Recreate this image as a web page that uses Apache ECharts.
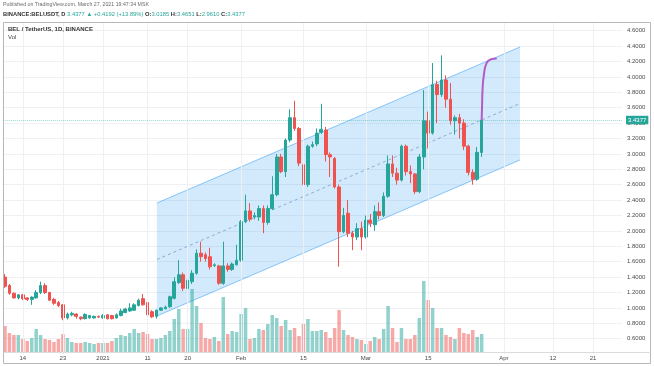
<!DOCTYPE html>
<html><head><meta charset="utf-8">
<script src="https://cdn.jsdelivr.net/npm/echarts@6/dist/echarts.min.js"></script>
<style>html,body{margin:0;padding:0;background:#fff}#c{width:654px;height:366px}</style>
</head><body><div id="c"></div>
<script>
// ---- data ----
const startDate = '2020-12-10';
const dayCount = 139; // Dec 10 2020 .. Apr 27 2021
const opens = [1.40,1.29,1.19,1.13,1.17,1.13,1.11,1.13,1.20,1.29,
 1.20,1.11,1.07,1.04,0.87,0.91,0.92,0.88,0.86,0.87,
 0.87,0.89,0.87,0.91,0.90,0.87,0.90,0.94,0.96,0.97,
 1.03,1.12,1.07,0.95,0.89,0.97,0.99,1.015,1.125,1.33,
 1.43,1.25,1.34,1.45,1.71,1.69,1.665,1.55,1.545,1.32,
 1.545,1.50,1.56,1.62,2.12,2.26,2.18,2.18,2.29,2.11,
 2.29,2.47,2.96,2.77,3.18,3.47,3.33,2.86,2.60,3.10,
 3.13,3.28,3.31,2.99,2.94,2.57,1.99,2.23,1.97,1.92,
 2.03,1.92,2.14,2.08,2.25,2.20,2.45,2.87,2.75,2.66,
 3.10,2.77,2.74,2.51,2.96,3.43,3.27,3.90,3.77,3.96,
 3.71,3.43,3.47,3.40,3.10,2.76,2.67,3.0185];
const closes = [1.28,1.19,1.13,1.17,1.12,1.11,1.14,1.20,1.29,1.20,
 1.10,1.06,1.03,0.87,0.92,0.93,0.89,0.86,0.915,0.90,
 0.89,0.88,0.90,0.86,0.86,0.91,0.96,0.985,1.00,1.04,
 1.10,1.04,0.91,0.885,0.97,1.00,1.01,1.145,1.34,1.43,
 1.255,1.36,1.45,1.71,1.665,1.64,1.535,1.56,1.32,1.545,
 1.50,1.57,1.62,2.12,2.26,2.15,2.20,2.29,2.11,2.29,
 2.47,2.96,2.77,3.18,3.47,3.33,2.88,2.60,3.10,3.12,
 3.27,3.32,2.99,2.96,2.57,1.99,2.20,1.97,1.92,2.03,
 1.92,2.14,2.10,2.25,2.20,2.45,2.87,2.75,2.66,3.10,
 2.77,2.74,2.51,2.96,3.43,3.27,3.90,3.77,3.96,3.71,
 3.43,3.47,3.40,3.10,2.76,2.67,3.02,3.4377];
const lows = [1.26,1.17,1.12,1.11,1.10,1.09,1.04,1.12,1.18,1.18,
 1.09,1.04,1.01,0.84,0.85,0.89,0.86,0.84,0.85,0.86,
 0.86,0.87,0.86,0.85,0.85,0.86,0.89,0.93,0.95,0.96,
 1.02,1.03,0.85,0.87,0.86,0.96,0.98,1.00,1.11,1.31,
 1.22,1.22,1.31,1.43,1.60,1.60,1.50,1.53,1.30,1.30,
 1.47,1.48,1.55,1.60,2.10,2.12,2.15,2.13,1.97,2.08,
 2.27,2.45,2.75,2.70,3.15,3.30,2.84,2.25,2.57,3.08,
 3.10,3.26,2.90,2.70,2.55,1.535,1.97,1.92,1.75,1.88,
 1.75,1.90,2.05,2.00,2.15,2.18,2.43,2.70,2.60,2.64,
 2.72,2.62,2.48,2.49,2.80,3.07,3.25,3.40,3.74,3.60,
 3.38,3.25,3.20,3.05,2.72,2.60,2.65,2.961];
const highs = [1.44,1.31,1.20,1.18,1.18,1.14,1.15,1.23,1.34,1.32,
 1.21,1.13,1.09,1.05,0.94,0.95,0.93,0.89,0.93,0.91,
 0.90,0.90,0.92,0.92,0.91,0.93,0.99,1.00,1.06,1.06,
 1.12,1.18,1.10,0.97,0.98,1.01,1.03,1.16,1.40,1.62,
 1.46,1.38,1.49,1.76,1.86,1.72,1.78,1.58,1.56,1.86,
 1.58,1.59,1.82,2.14,2.47,2.36,2.24,2.33,2.33,2.33,
 2.71,3.00,3.00,3.20,3.58,3.69,3.35,2.90,3.12,3.16,
 3.33,3.65,3.35,3.02,2.96,2.60,2.30,2.40,2.00,2.10,
 2.12,2.20,2.22,2.33,2.37,2.50,2.98,2.98,2.82,3.12,
 3.12,2.85,2.75,3.00,3.83,3.55,4.18,3.95,4.28,4.02,
 3.92,3.50,3.52,3.45,3.12,2.80,3.09,3.4651];
const volumes = [26,19,17,17,13,11,14,23,17,13,
 12,10,13,18,14,10,9,9,10,9,
 8,9,9,9,11,14,17,16,19,23,
 19,20,18,13,13,14,17,21,33,43,
 23,23,63,46,29,14,13,15,11,55,
 18,21,20,38,44,13,14,23,22,28,
 37,34,26,32,22,24,16,28,33,21,
 21,22,20,14,24,42,22,17,15,13,
 12,8,11,15,13,23,46,24,10,24,
 13,13,17,34,71,52,44,24,24,17,
 15,13,24,19,18,22,15,18];
const tickDates = ['2020-12-14','2020-12-23','2021-01-01','2021-01-11','2021-01-20','2021-02-01','2021-02-15','2021-03-01','2021-03-15','2021-04-01','2021-04-12','2021-04-21'];
const tickTexts = ['14','23','2021','11','20','Feb','15','Mar','15','Apr','12','21'];
const priceMin = 0.4, priceMax = 4.8, priceStep = 0.2;
const channelX = [34.1, 115.6];
const channelUpper = [2.362, 4.388];
const channelLower = [0.895, 2.921];
const projX = [107, 107.1, 107.2, 107.5, 108.1, 109.1, 110.4];
const projY = [3.4377, 3.635, 3.83, 4.025, 4.18, 4.23, 4.24];

// ---- build ----
const UP = '#26a69a', DOWN = '#ef5350';
const categories = [];
{
  const d0 = new Date(startDate + 'T00:00:00Z');
  for (let i = 0; i < dayCount; i++) {
    const d = new Date(d0.getTime() + i * 86400000);
    categories.push(d.toISOString().slice(0, 10));
  }
}
const N = opens.length;
const candleData = opens.map((o, i) => [o, closes[i], lows[i], highs[i]]);
const volData = volumes.map((v, i) => ({
  value: v,
  itemStyle: { color: closes[i] >= opens[i] ? 'rgba(38,166,154,0.5)' : 'rgba(239,83,80,0.5)' }
}));
const last = N - 1;
const lastPrice = closes[last];
const chg = closes[last] - opens[last];
const chgPct = chg / opens[last] * 100;
const midY = [(channelUpper[0] + channelLower[0]) / 2, (channelUpper[1] + channelLower[1]) / 2];

const chart = echarts.init(document.getElementById('c'), null, { renderer: 'canvas' });
const FONT = 'Liberation Sans, Arial, sans-serif';

const option = {
  animation: false,
  backgroundColor: '#fff',
  textStyle: { fontFamily: FONT },
  grid: { left: 2.77, right: 32.03, top: 15.3, bottom: 11.9, containLabel: false },
  xAxis: [
    {
      type: 'category', data: categories, boundaryGap: true,
      axisLine: { show: false }, axisTick: { show: false }, splitLine: { show: false },
      axisLabel: {
        interval: (idx, val) => tickDates.includes(val),
        formatter: (val) => tickTexts[tickDates.indexOf(val)],
        fontSize: 6, color: '#4a4a4a', margin: 1.5, fontFamily: FONT
      }
    },
    { type: 'value', min: -0.5, max: dayCount - 0.5, show: false }
  ],
  yAxis: [
    {
      type: 'value', position: 'right', min: priceMin, max: priceMax, interval: priceStep,
      axisLine: { show: false }, axisTick: { show: false },
      axisLabel: {
        formatter: v => v.toFixed(4), fontSize: 6, color: '#4a4a4a', margin: 5,
        showMinLabel: false, showMaxLabel: false, fontFamily: FONT
      },
      splitLine: { show: true, showMinLine: false, showMaxLine: false, lineStyle: { color: '#eef0f4', width: 1 } }
    },
    { type: 'value', min: -2.1, max: 336.7, show: false }
  ],
  series: [
    {
      name: 'grid-v', type: 'line', data: categories.map(() => null), z: 0, silent: true,
      markLine: {
        silent: true, symbol: 'none', animation: false,
        label: { show: false },
        lineStyle: { color: '#eef0f4', type: 'solid', width: 1 },
        data: tickDates.map(d => ({ xAxis: d }))
      }
    },
    {
      name: 'Vol', type: 'bar', data: volData, yAxisIndex: 1, barWidth: 3.5, z: 1, silent: true
    },
    {
      name: 'channel', type: 'custom', xAxisIndex: 1, yAxisIndex: 0, z: 1, silent: true,
      data: [0],
      renderItem: (params, api) => {
        const a = api.coord([channelX[0], channelUpper[0]]);
        const b = api.coord([channelX[1], channelUpper[1]]);
        const c = api.coord([channelX[1], channelLower[1]]);
        const d = api.coord([channelX[0], channelLower[0]]);
        return { type: 'polygon', shape: { points: [a, b, c, d] }, style: { fill: 'rgba(33,150,243,0.2)', stroke: 'none' } };
      }
    },
    {
      type: 'line', xAxisIndex: 1, yAxisIndex: 0, z: 2, silent: true, symbol: 'none',
      data: [[channelX[0], channelUpper[0]], [channelX[1], channelUpper[1]]],
      lineStyle: { color: 'rgba(33,150,243,0.5)', width: 1 }
    },
    {
      type: 'line', xAxisIndex: 1, yAxisIndex: 0, z: 2, silent: true, symbol: 'none',
      data: [[channelX[0], channelLower[0]], [channelX[1], channelLower[1]]],
      lineStyle: { color: 'rgba(33,150,243,0.5)', width: 1 }
    },
    {
      type: 'line', xAxisIndex: 1, yAxisIndex: 0, z: 2, silent: true, symbol: 'none',
      data: [[channelX[0], midY[0]], [channelX[1], midY[1]]],
      lineStyle: { color: 'rgba(90,130,170,0.6)', width: 1, type: [3, 3] }
    },
    {
      name: 'BEL', type: 'candlestick', data: candleData, barWidth: 3.1, z: 3,
      itemStyle: { color: UP, color0: DOWN, borderColor: UP, borderColor0: DOWN, borderWidth: 1 },
      markLine: {
        silent: true, symbol: 'none', animation: false,
        data: [{
          yAxis: lastPrice,
          lineStyle: { color: 'rgba(38,166,154,0.45)', type: 'dotted', width: 1 },
          label: {
            show: true, position: 'end', distance: 4, formatter: lastPrice.toFixed(4),
            backgroundColor: UP, color: '#fff', fontSize: 6, padding: [1.5, 2, 1, 2], fontFamily: FONT
          }
        }]
      }
    },
    {
      type: 'line', xAxisIndex: 1, yAxisIndex: 0, z: 4, silent: true, symbol: 'none', smooth: 0.5,
      data: projX.map((x, i) => [x, projY[i]]),
      lineStyle: { color: '#b45ac6', width: 2 }
    }
  ],
  graphic: [
    { type: 'rect', shape: { x: 0, y: 0, width: 654, height: 22 }, style: { fill: '#fff' }, z: 100, silent: true },
    { type: 'text', x: 3, y: 2.5, z: 101, silent: true,
      style: { text: 'Published on TradingView.com, March 27, 2021 19:47:34 MSK', font: '5.25px ' + FONT, fill: '#6a6a6a' } },
    { type: 'text', x: 3, y: 11.5, z: 101, silent: true,
      style: {
        text: '{b|BINANCE:BELUSDT, D} {g|' + lastPrice.toFixed(4) + ' \u25B2 +' + chg.toFixed(4) + ' (+' + chgPct.toFixed(2) + '%)} ' +
          '{b|O:}{g|' + opens[last].toFixed(4) + '} {b|H:}{g|' + highs[last].toFixed(4) + '} {b|L:}{g|' + lows[last].toFixed(4) + '} {b|C:}{g|' + closes[last].toFixed(4) + '}',
        font: '5.8px ' + FONT,
        rich: {
          b: { fontWeight: 'bold', fill: '#333', fontSize: 5.8, fontFamily: FONT },
          g: { fill: UP, fontSize: 5.8, fontFamily: FONT }
        }
      } },
    { type: 'rect', shape: { x: 3.5, y: 22.5, width: 647, height: 341 }, style: { fill: 'none', stroke: '#b8b8b8', lineWidth: 1 }, z: 100, silent: true },
    { type: 'line', shape: { x1: 3.5, y1: 352.5, x2: 650.5, y2: 352.5 }, style: { stroke: '#dcdcdc', lineWidth: 1 }, z: 100, silent: true },
    { type: 'text', x: 8, y: 26, z: 101, silent: true,
      style: { text: 'BEL / TetherUS, 1D, BINANCE', font: 'bold 6px ' + FONT, fill: '#333' } },
    { type: 'text', x: 8, y: 34.5, z: 101, silent: true,
      style: { text: 'Vol', font: '6px ' + FONT, fill: '#444' } }
  ]
};
chart.setOption(option);
</script>
</body></html>
